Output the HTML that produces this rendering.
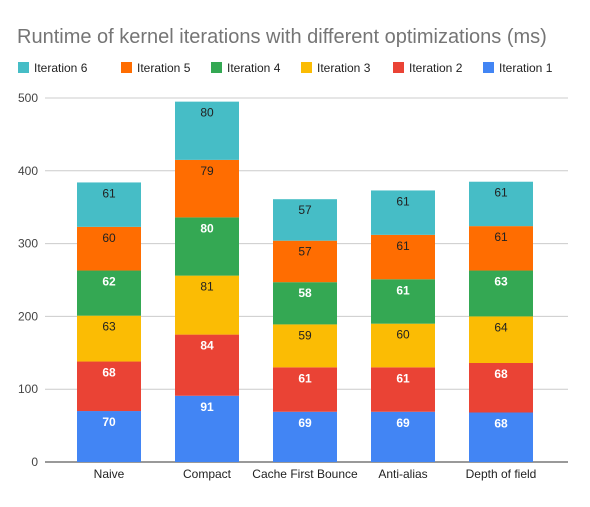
<!DOCTYPE html>
<html><head><meta charset="utf-8"><style>
body{margin:0;background:#fff;font-family:"Liberation Sans",Arial,sans-serif;}
</style></head><body>
<svg id="chart" width="590" height="502" xmlns="http://www.w3.org/2000/svg">
<rect width="590" height="502" fill="#fff"/>
<text x="17" y="43" font-size="20" fill="#757575" font-family="Liberation Sans, Arial, sans-serif">Runtime of kernel iterations with different optimizations (ms)</text>
<g id="legend"></g>
<g id="grid"></g>
<g id="bars"></g>
<g id="xlabels"></g>
</svg>
<script>
const categories = ["Naive","Compact","Cache First Bounce","Anti-alias","Depth of field"];
const seriesNames = ["Iteration 1","Iteration 2","Iteration 3","Iteration 4","Iteration 5","Iteration 6"];
const iter1 = [70,91,69,69,68];
const iter2 = [68,84,61,61,68];
const iter3 = [63,81,59,60,64];
const iter4 = [62,80,58,61,63];
const iter5 = [60,79,57,61,61];
const iter6 = [61,80,57,61,61];
const yTicks = [0,100,200,300,400,500];

const series = [iter1,iter2,iter3,iter4,iter5,iter6];
const colors = ["#4285F4","#EA4335","#FBBC04","#34A853","#FF6D01","#46BDC6"];
const labelColors = ["#fff","#fff","#222","#fff","#222","#222"];
const labelWeights = ["bold","bold","normal","bold","normal","normal"];
const NS = "http://www.w3.org/2000/svg";
const y0 = 462, yMax = 500, plotTop = 98;
const plotLeft = 45, plotRight = 568;
const bandLeft = 60, band = 98, barW = 64;
function y(v){ return y0 - (v / yMax) * (y0 - plotTop); }
function xc(i){ return bandLeft + band * i + band / 2; }
function mk(tag, attrs, parent){ const e = document.createElementNS(NS, tag); for (const k in attrs) e.setAttribute(k, attrs[k]); parent.appendChild(e); return e; }

const grid = document.getElementById('grid');
yTicks.forEach(t => {
  const l = mk('line', {x1: plotLeft, x2: plotRight, y1: y(t), y2: y(t), stroke: t === 0 ? '#333' : '#ccc', 'stroke-width': 1}, grid);
  
  
  const tx = mk('text', {x: 38, y: y(t) + 4, 'text-anchor': 'end', 'font-size': 12, fill: '#444'}, grid);
  tx.textContent = t;
  
  
});

const bars = document.getElementById('bars');
categories.forEach((c, i) => {
  let acc = 0;
  series.forEach((s, k) => {
    const v = s[i];
    const top = y(acc + v), bot = y(acc);
    const r = mk('rect', {x: xc(i) - barW / 2, y: top, width: barW, height: bot - top, fill: colors[k]}, bars);
    
    
    const t = mk('text', {x: xc(i), y: top + 15, 'text-anchor': 'middle', 'font-size': 12, fill: labelColors[k], 'font-weight': labelWeights[k]}, bars);
    t.textContent = v;
    
    
    acc += v;
  });
  const xl = mk('text', {x: xc(i), y: 478, 'text-anchor': 'middle', 'font-size': 12, fill: '#222'}, document.getElementById('xlabels'));
  xl.textContent = c;
  
  
});

const legend = document.getElementById('legend');
const legendX = [18, 121, 211, 301, 393, 483];
for (let j = 0; j < 6; j++) {
  const k = 5 - j;
  const g = mk('g', {}, legend);
  
  
  mk('rect', {x: legendX[j], y: 62, width: 11, height: 11, fill: colors[k]}, g);
  const t = mk('text', {x: legendX[j] + 16, y: 72, 'font-size': 12, fill: '#222'}, g);
  t.textContent = seriesNames[k];
}
</script>
</body></html>
